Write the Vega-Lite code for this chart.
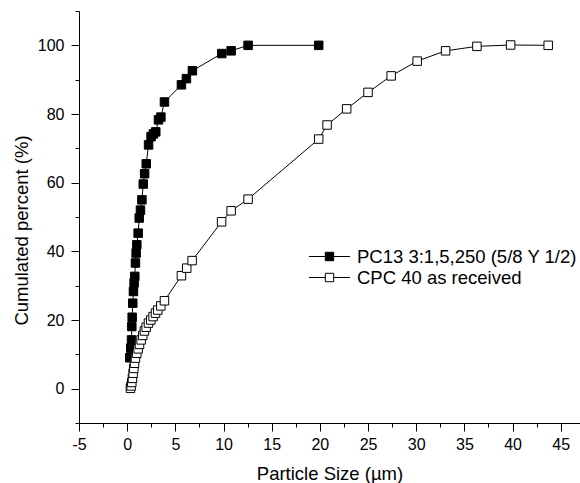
{
  "$schema": "https://vega.github.io/schema/vega-lite/v6.json",
  "autosize": "none",
  "width": 501,
  "height": 412,
  "padding": {"left": 79, "top": 11, "right": 0, "bottom": 60},
  "background": "white",
  "view": {"stroke": null},
  "config": {
    "font": "Liberation Sans",
    "axis": {"grid": false, "domainColor": "black", "tickColor": "black", "labelColor": "black", "titleColor": "black", "labelFont": "Liberation Sans", "titleFont": "Liberation Sans", "labelFontSize": 16, "titleFontSize": 18.5, "titleFontWeight": "normal", "domainWidth": 1, "tickWidth": 1, "labelOverlap": false, "labelFlush": false, "labelPadding": 7}
  },
  "data": {"values": [
    {"series": "PC13 3:1,5,250 (5/8 Y 1/2)", "x": 0.27, "y": 9.0},
    {"series": "PC13 3:1,5,250 (5/8 Y 1/2)", "x": 0.37, "y": 11.8},
    {"series": "PC13 3:1,5,250 (5/8 Y 1/2)", "x": 0.45, "y": 14.2},
    {"series": "PC13 3:1,5,250 (5/8 Y 1/2)", "x": 0.48, "y": 18.1},
    {"series": "PC13 3:1,5,250 (5/8 Y 1/2)", "x": 0.52, "y": 20.8},
    {"series": "PC13 3:1,5,250 (5/8 Y 1/2)", "x": 0.58, "y": 24.9},
    {"series": "PC13 3:1,5,250 (5/8 Y 1/2)", "x": 0.65, "y": 28.3},
    {"series": "PC13 3:1,5,250 (5/8 Y 1/2)", "x": 0.72, "y": 30.8},
    {"series": "PC13 3:1,5,250 (5/8 Y 1/2)", "x": 0.79, "y": 32.7},
    {"series": "PC13 3:1,5,250 (5/8 Y 1/2)", "x": 0.86, "y": 36.6},
    {"series": "PC13 3:1,5,250 (5/8 Y 1/2)", "x": 0.93, "y": 39.5},
    {"series": "PC13 3:1,5,250 (5/8 Y 1/2)", "x": 1.0, "y": 41.9},
    {"series": "PC13 3:1,5,250 (5/8 Y 1/2)", "x": 1.14, "y": 45.3},
    {"series": "PC13 3:1,5,250 (5/8 Y 1/2)", "x": 1.25, "y": 49.7},
    {"series": "PC13 3:1,5,250 (5/8 Y 1/2)", "x": 1.38, "y": 52.0},
    {"series": "PC13 3:1,5,250 (5/8 Y 1/2)", "x": 1.53, "y": 55.0},
    {"series": "PC13 3:1,5,250 (5/8 Y 1/2)", "x": 1.67, "y": 59.6},
    {"series": "PC13 3:1,5,250 (5/8 Y 1/2)", "x": 1.81, "y": 62.6},
    {"series": "PC13 3:1,5,250 (5/8 Y 1/2)", "x": 1.98, "y": 65.5},
    {"series": "PC13 3:1,5,250 (5/8 Y 1/2)", "x": 2.22, "y": 71.0},
    {"series": "PC13 3:1,5,250 (5/8 Y 1/2)", "x": 2.48, "y": 73.4},
    {"series": "PC13 3:1,5,250 (5/8 Y 1/2)", "x": 2.72, "y": 74.2},
    {"series": "PC13 3:1,5,250 (5/8 Y 1/2)", "x": 2.97, "y": 74.8},
    {"series": "PC13 3:1,5,250 (5/8 Y 1/2)", "x": 3.25, "y": 78.3},
    {"series": "PC13 3:1,5,250 (5/8 Y 1/2)", "x": 3.5, "y": 79.1},
    {"series": "PC13 3:1,5,250 (5/8 Y 1/2)", "x": 3.87, "y": 83.5},
    {"series": "PC13 3:1,5,250 (5/8 Y 1/2)", "x": 5.63, "y": 88.5},
    {"series": "PC13 3:1,5,250 (5/8 Y 1/2)", "x": 6.15, "y": 90.3},
    {"series": "PC13 3:1,5,250 (5/8 Y 1/2)", "x": 6.77, "y": 92.6},
    {"series": "PC13 3:1,5,250 (5/8 Y 1/2)", "x": 9.82, "y": 97.6},
    {"series": "PC13 3:1,5,250 (5/8 Y 1/2)", "x": 10.79, "y": 98.4},
    {"series": "PC13 3:1,5,250 (5/8 Y 1/2)", "x": 12.55, "y": 100.0},
    {"series": "PC13 3:1,5,250 (5/8 Y 1/2)", "x": 19.88, "y": 100.0},
    {"series": "CPC 40 as received", "x": 0.34, "y": 0.1},
    {"series": "CPC 40 as received", "x": 0.41, "y": 0.8},
    {"series": "CPC 40 as received", "x": 0.48, "y": 1.8},
    {"series": "CPC 40 as received", "x": 0.55, "y": 3.0},
    {"series": "CPC 40 as received", "x": 0.62, "y": 4.5},
    {"series": "CPC 40 as received", "x": 0.69, "y": 5.9},
    {"series": "CPC 40 as received", "x": 0.76, "y": 7.4},
    {"series": "CPC 40 as received", "x": 0.86, "y": 8.9},
    {"series": "CPC 40 as received", "x": 1.0, "y": 10.3},
    {"series": "CPC 40 as received", "x": 1.14, "y": 11.6},
    {"series": "CPC 40 as received", "x": 1.28, "y": 12.9},
    {"series": "CPC 40 as received", "x": 1.45, "y": 14.2},
    {"series": "CPC 40 as received", "x": 1.62, "y": 15.5},
    {"series": "CPC 40 as received", "x": 1.79, "y": 16.8},
    {"series": "CPC 40 as received", "x": 1.97, "y": 17.9},
    {"series": "CPC 40 as received", "x": 2.21, "y": 19.1},
    {"series": "CPC 40 as received", "x": 2.45, "y": 20.0},
    {"series": "CPC 40 as received", "x": 2.69, "y": 21.0},
    {"series": "CPC 40 as received", "x": 2.94, "y": 22.0},
    {"series": "CPC 40 as received", "x": 3.18, "y": 22.9},
    {"series": "CPC 40 as received", "x": 3.49, "y": 24.1},
    {"series": "CPC 40 as received", "x": 3.87, "y": 25.6},
    {"series": "CPC 40 as received", "x": 5.63, "y": 32.9},
    {"series": "CPC 40 as received", "x": 6.18, "y": 35.1},
    {"series": "CPC 40 as received", "x": 6.74, "y": 37.3},
    {"series": "CPC 40 as received", "x": 9.8, "y": 48.6},
    {"series": "CPC 40 as received", "x": 10.79, "y": 51.8},
    {"series": "CPC 40 as received", "x": 12.55, "y": 55.2},
    {"series": "CPC 40 as received", "x": 19.88, "y": 72.7},
    {"series": "CPC 40 as received", "x": 20.75, "y": 76.8},
    {"series": "CPC 40 as received", "x": 22.78, "y": 81.5},
    {"series": "CPC 40 as received", "x": 25.0, "y": 86.3},
    {"series": "CPC 40 as received", "x": 27.4, "y": 91.1},
    {"series": "CPC 40 as received", "x": 30.1, "y": 95.4},
    {"series": "CPC 40 as received", "x": 33.05, "y": 98.4},
    {"series": "CPC 40 as received", "x": 36.3, "y": 99.7},
    {"series": "CPC 40 as received", "x": 39.8, "y": 100.1},
    {"series": "CPC 40 as received", "x": 43.7, "y": 100.0}
  ]},
  "encoding": {
    "x": {"field": "x", "type": "quantitative",
      "scale": {"domain": [-5, 47], "nice": false, "zero": false},
      "axis": {"title": "Particle Size (µm)", "values": [-5, -2.5, 0, 2.5, 5, 7.5, 10, 12.5, 15, 17.5, 20, 22.5, 25, 27.5, 30, 32.5, 35, 37.5, 40, 42.5, 45],
        "tickSize": {"condition": {"test": "datum.value % 5 === 0", "value": 8}, "value": 4},
        "labelExpr": "datum.value % 5 === 0 ? '' + datum.value : ''",
        "labelPadding": 5,
        "titleY": 50, "titleBaseline": "middle"}},
    "y": {"field": "y", "type": "quantitative",
      "scale": {"domain": [-10, 110], "nice": false, "zero": false},
      "axis": {"title": "Cumulated percent (%)", "values": [-10, 0, 10, 20, 30, 40, 50, 60, 70, 80, 90, 100, 110],
        "tickSize": {"condition": {"test": "datum.value % 20 === 0", "value": 8}, "value": 4},
        "labelExpr": "datum.value % 20 === 0 && datum.value >= 0 && datum.value <= 100 ? '' + datum.value : ''",
        "titleY": 219, "titleX": -58, "titleBaseline": "middle", "titleAngle": -90, "titleAlign": "center"}}
  },
  "layer": [
    {"mark": {"type": "line", "stroke": "black", "strokeWidth": 1},
     "encoding": {"detail": {"field": "series"}}},
    {"mark": {"type": "point", "shape": "square", "size": 72, "filled": true, "stroke": "black", "strokeWidth": 1, "opacity": 1},
     "encoding": {"fill": {"field": "series", "type": "nominal",
       "scale": {"domain": ["PC13 3:1,5,250 (5/8 Y 1/2)", "CPC 40 as received"], "range": ["black", "white"]},
       "legend": {"title": null, "orient": "none", "legendX": 240, "legendY": 235,
         "symbolType": "M-2.05,0H-0.42M0.42,0H2.05M-0.42,-0.42H0.42V0.42H-0.42Z",
         "symbolSize": 400, "symbolStrokeColor": "black", "symbolStrokeWidth": 1, "symbolOpacity": 1,
         "labelFont": "Liberation Sans", "labelFontSize": 18.5, "labelColor": "black", "labelOffset": 17, "rowPadding": 1, "labelLimit": 0}}}}
  ]
}
